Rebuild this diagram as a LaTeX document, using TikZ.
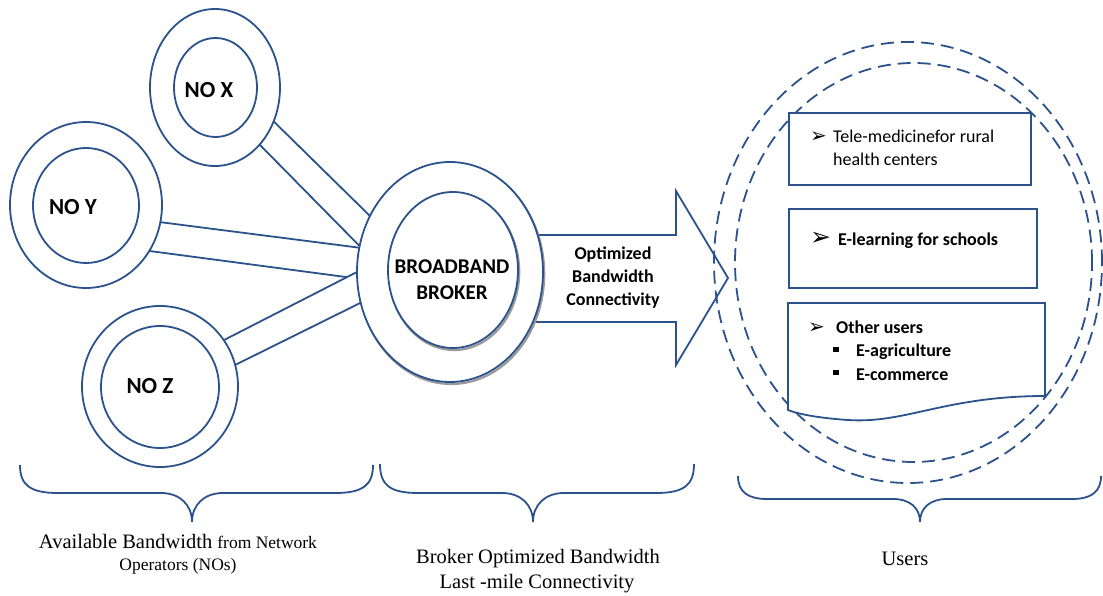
\documentclass[tikz,border=0pt]{standalone}
\usepackage{fontspec}
\setmainfont{Liberation Serif}
\newfontfamily\calib{Carlito}
\newfontfamily\djv{DejaVu Sans}
\usetikzlibrary{shapes.geometric}
\definecolor{ln}{RGB}{44,82,140}
\begin{document}
\begin{tikzpicture}[x=1pt,y=-1pt,
  ring/.style={ellipse, draw=ln, line width=1.8pt, inner sep=0pt, outer sep=0pt, fill=white},
  shad/.style={ellipse, draw=black!40, line width=2.2pt, inner sep=0pt, outer sep=0pt},
  band/.style={draw=ln, line width=1.8pt},
  usr/.style={ellipse, draw=ln, line width=1.8pt, dash pattern=on 13pt off 7pt, inner sep=0pt, outer sep=0pt},
  boxst/.style={draw=ln, line width=1.8pt, fill=white, inner sep=0pt, outer sep=0pt, anchor=north west},
  nolbl/.style={font=\calib\bfseries\fontsize{23}{27}\selectfont, inner sep=0pt},
  brklbl/.style={font=\calib\bfseries\fontsize{21}{26}\selectfont, inner sep=0pt, anchor=base},
  arrlbl/.style={font=\calib\bfseries\fontsize{18}{23}\selectfont, inner sep=0pt, anchor=base},
  boxtxt/.style={font=\calib\fontsize{18}{23}\selectfont, inner sep=0pt, anchor=base west},
  boxbold/.style={font=\calib\bfseries\fontsize{18}{23}\selectfont, inner sep=0pt, anchor=base west},
  bul/.style={font=\djv\fontsize{20}{22}\selectfont, inner sep=0pt, anchor=base west},
  bottxt/.style={font=\fontsize{20.5}{24}\selectfont, inner sep=0pt, anchor=base},
  brc/.style={draw=ln, line width=1.8pt}
]
\useasboundingbox (0,0) rectangle (1103,596);

% users dashed circles
\node[usr, minimum width=388pt, minimum height=441pt] (uo) at (908,262.5) {};
\node[usr, minimum width=357pt, minimum height=399pt] (ui) at (913.5,262.5) {};

% big arrow
\draw[band, line join=miter] (530,235) -- (676,235) -- (676,191) -- (728,278) -- (676,365) -- (676,322) -- (530,322);
\node[arrlbl] (a1) at (613,259) {Optimized};
\node[arrlbl] (a2) at (613,282) {Bandwidth};
\node[arrlbl] (a3) at (613,305.5) {Connectivity};

% broker
\node[shad, minimum width=186pt, minimum height=220pt] (bros) at (451.2,274) {};
\node[ring, minimum width=186pt, minimum height=220pt] (bro) at (450,272) {};
\node[shad, minimum width=130pt, minimum height=156pt] (bris) at (454.2,272) {};
\node[ring, minimum width=130pt, minimum height=156pt] (bri) at (453,270) {};
\node[brklbl] (b1) at (452,273.3) {BROADBAND};
\node[brklbl] (b2) at (452,299.3) {BROKER};

% network operators
\node[ring, minimum width=130pt, minimum height=157pt] (nox) at (215,87.5) {};
\node[ring, minimum width=83pt, minimum height=99pt] (noxi) at (215.5,87.5) {};
\node[nolbl] (lx) at (209,90) {NO X};

\node[ring, minimum width=152pt, minimum height=166pt] (noy) at (86,205) {};
\node[ring, minimum width=106pt, minimum height=115pt] (noyi) at (86,205.5) {};
\node[nolbl] (ly) at (73,207) {NO Y};

\node[ring, minimum width=156pt, minimum height=161pt] (noz) at (160,386.5) {};
\node[ring, minimum width=118pt, minimum height=122pt] (nozi) at (160,387) {};
\node[nolbl] (lz) at (150,386) {NO Z};

% bands
\draw[band] (nox.-30.6) -- (bro.145.3);
\draw[band] (nox.-52.9) -- (bro.164.6);
\draw[band] (noy.-13.5) -- (bro.165);
\coordinate (jn) at (intersection of noy.-36.3--bro.184.3 and noz.36.6--bro.180.6);
\draw[band] (noy.-36.3) -- (jn);
\draw[band] (noz.36.6) -- (bro.180.6);
\draw[band] (noz.16) -- (bro.199);

% user boxes
\node[boxst, minimum width=242pt, minimum height=72pt] (box1) at (789,113) {};
\node[bul] (u1) at (810,142.7) {➢};
\node[boxtxt] (t1a) at (833,142.7) {Tele-medicinefor rural};
\node[boxtxt] (t1b) at (833,165.7) {health centers};

\node[boxst, minimum width=248pt, minimum height=79pt] (box2) at (789,209) {};
\node[bul, font=\djv\fontsize{25}{27}\selectfont] (u2) at (810,245) {➢};
\node[boxbold] (t2) at (838,245) {E-learning for schools};

\draw[band, fill=white] (788,303) -- (1045,303) -- (1045,396)
  .. controls (945,396) and (905,424) .. (848,420)
  .. controls (818,418) and (798,414) .. (788,410) -- cycle;
\node[bul] (u3) at (808,333) {➢};
\node[boxbold] (t3) at (836,333) {Other users};
\fill (833,346.5) rectangle (838.5,352);
\node[boxbold] (t4) at (856,356.7) {E-agriculture};
\fill (833,369.5) rectangle (838.5,375);
\node[boxbold] (t5) at (856,380) {E-commerce};

% braces
\draw[brc] (20,465) .. controls (20,485) and (30,493) .. (58,493) -- (161,493)
  .. controls (180,493) and (192,505) .. (192,522)
  .. controls (192,505) and (204,493) .. (223,493) -- (335,493)
  .. controls (363,493) and (373,485) .. (373,465);
\draw[brc] (380,464) .. controls (380,485) and (390,493) .. (418,493) -- (502,493)
  .. controls (521,493) and (533,505) .. (533,522)
  .. controls (533,505) and (545,493) .. (564,493) -- (656,493)
  .. controls (684,493) and (694,485) .. (694,464);
\draw[brc] (738,476) .. controls (738,492) and (748,499) .. (767,499) -- (893,499)
  .. controls (910,499) and (920,508) .. (920,522)
  .. controls (920,508) and (930,499) .. (947,499) -- (1072,499)
  .. controls (1091,499) and (1101,492) .. (1101,476);

% bottom captions
\node[bottxt] (c1a) at (178,548) {Available Bandwidth {\fontsize{17.5}{20}\selectfont from Network}};
\node[bottxt, font=\fontsize{17.5}{20}\selectfont] (c1b) at (178,570) {Operators (NOs)};
\node[bottxt] (c2a) at (538,563) {Broker Optimized Bandwidth};
\node[bottxt] (c2b) at (537,588) {Last -mile Connectivity};
\node[bottxt] (c3) at (905,565) {Users};
\end{tikzpicture}
\end{document}
